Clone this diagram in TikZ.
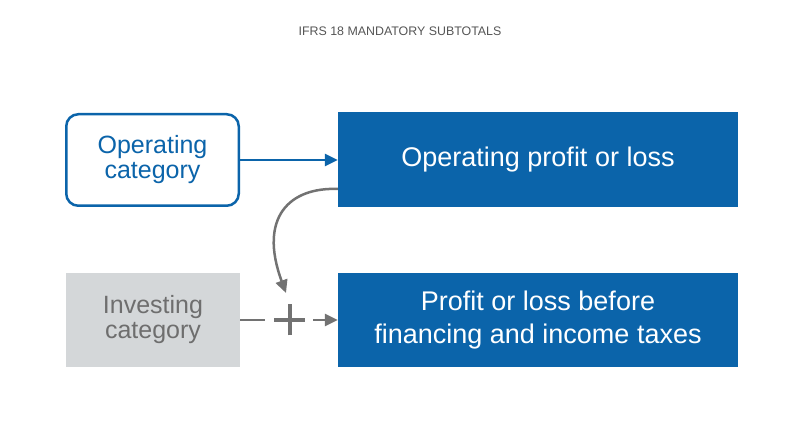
\documentclass[tikz,border=0pt]{standalone}
\usepackage{fontspec}
\setmainfont{Liberation Sans}
\usetikzlibrary{arrows.meta}
\definecolor{ifrsblue}{HTML}{0B64AA}
\definecolor{boxgrey}{HTML}{D4D7D9}
\definecolor{txtgrey}{HTML}{6E6E6E}
\definecolor{arrgrey}{HTML}{727272}
\definecolor{titlegrey}{HTML}{555555}
\tikzset{
  outlinebox/.style={draw=ifrsblue, line width=2.5pt, rounded corners=12pt, fill=white,
    minimum width=172.5pt, minimum height=91.5pt, text=ifrsblue, align=center,
    font=\fontsize{25}{25}\selectfont, inner sep=0pt},
  greybox/.style={fill=boxgrey, minimum width=174pt, minimum height=94pt, text=txtgrey,
    align=center, font=\fontsize{25}{25}\selectfont, inner sep=0pt},
  bluebox/.style={fill=ifrsblue, minimum width=400pt, minimum height=95pt, text=white,
    align=center, font=\fontsize{27}{33}\selectfont, inner sep=0pt},
  bluearrow/.style={draw=ifrsblue, line width=2.5pt, -{Triangle[length=13pt,width=12pt]}},
  greyarrow/.style={draw=arrgrey, line width=2.5pt, -{Triangle[length=13pt,width=12pt]}},
  plusbar/.style={draw=arrgrey, line width=4pt},
}
\begin{document}
\begin{tikzpicture}[x=1pt,y=1pt]
\useasboundingbox (0,0) rectangle (800,447);
\node[font=\fontsize{12.4}{14}\selectfont, text=titlegrey] (title) at (400,416) {IFRS 18 MANDATORY SUBTOTALS};
\node[outlinebox] (opcat) at (152.5,287) {Operating\\category};
\node[bluebox] (opp) at (538,287) {Operating profit or loss};
\node[greybox] (inv) at (153,127) {Investing\\category};
\node[bluebox, minimum height=94pt] (pbt) at (538,127) {Profit or loss before\\financing and income taxes};
\coordinate (plus) at (289.5,127);
\coordinate (curveend) at (286,154);
\draw[bluearrow] (opcat.east) -- (opp.west);
\draw[greyarrow] ([yshift=-29pt]opp.west) .. controls (290,260) and (258,230) .. (curveend);
\draw[greyarrow, dash pattern=on 25pt off 48pt on 30pt] (inv.east) -- (pbt.west);
\draw[plusbar] ([xshift=-15.5pt]plus) -- ([xshift=15.5pt]plus);
\draw[plusbar] ([yshift=-15.5pt]plus) -- ([yshift=15.5pt]plus);
\end{tikzpicture}
\end{document}
